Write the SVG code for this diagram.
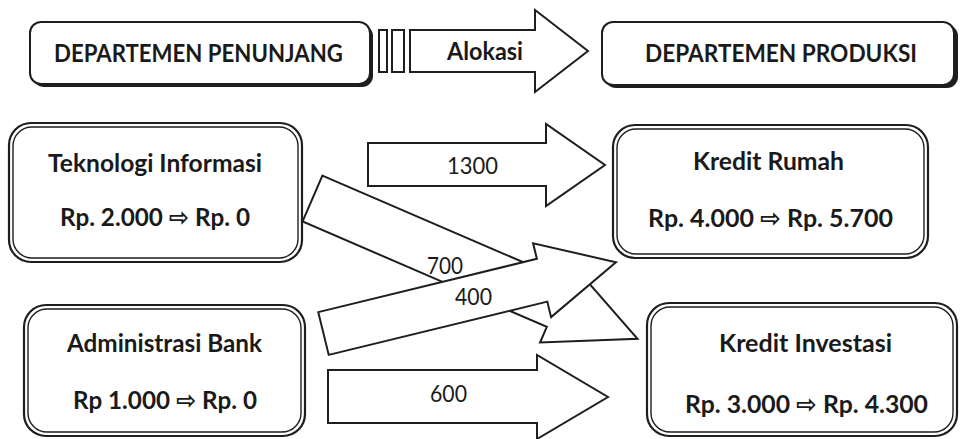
<svg xmlns="http://www.w3.org/2000/svg" width="960" height="439" viewBox="0 0 960 439">
<style>
.t{font-family:Lato,"Open Sans","DejaVu Sans",sans-serif;font-weight:bold;font-size:25.5px;fill:#1a1a1a;text-anchor:middle}
.n{font-family:Lato,"Open Sans","DejaVu Sans",sans-serif;font-weight:normal;font-size:23px;fill:#1a1a1a;text-anchor:middle}
.box{fill:#fff;stroke:#1e1e1e;stroke-width:2}
.shadow{fill:#1e1e1e}
.outer{fill:#fff;stroke:#1e1e1e;stroke-width:2.2}
.inner{fill:none;stroke:#1e1e1e;stroke-width:1.4}
.arrow{fill:#fff;stroke:#1e1e1e;stroke-width:2;stroke-linejoin:miter}
</style>
<rect width="960" height="439" fill="#fff"/>

<g id="dept-penunjang">
<rect class="shadow" x="33" y="25" width="340" height="62" rx="11"/>
<rect class="box" x="30" y="22" width="340" height="62" rx="11"/>
<text class="t" x="198.5" y="62" textLength="289" lengthAdjust="spacingAndGlyphs">DEPARTEMEN PENUNJANG</text>
</g>

<g id="dept-produksi">
<rect class="shadow" x="605" y="25" width="353" height="63" rx="11"/>
<rect class="box" x="602" y="22" width="352" height="63" rx="11"/>
<text class="t" x="781" y="62" textLength="272" lengthAdjust="spacingAndGlyphs">DEPARTEMEN PRODUKSI</text>
</g>

<g id="teknologi-informasi">
<rect class="outer" x="9" y="123" width="293" height="139" rx="22"/>
<rect class="inner" x="13" y="127" width="285" height="131" rx="19"/>
<text class="t" x="155" y="172" textLength="214" lengthAdjust="spacingAndGlyphs">Teknologi Informasi</text>
<text class="t" x="155" y="226" textLength="190" lengthAdjust="spacingAndGlyphs">Rp. 2.000 ⇨ Rp. 0</text>
</g>

<g id="kredit-rumah">
<rect class="outer" x="613" y="125" width="315" height="133" rx="22"/>
<rect class="inner" x="617" y="129" width="307" height="125" rx="19"/>
<text class="t" x="768.5" y="170" textLength="151" lengthAdjust="spacingAndGlyphs">Kredit Rumah</text>
<text class="t" x="770.5" y="227" textLength="245" lengthAdjust="spacingAndGlyphs">Rp. 4.000 ⇨ Rp. 5.700</text>
</g>

<g id="administrasi-bank">
<rect class="outer" x="24" y="305" width="281" height="131" rx="22"/>
<rect class="inner" x="28" y="309" width="273" height="123" rx="19"/>
<text class="t" x="164.5" y="352" textLength="195" lengthAdjust="spacingAndGlyphs">Administrasi Bank</text>
<text class="t" x="165" y="409" textLength="184" lengthAdjust="spacingAndGlyphs">Rp 1.000 ⇨ Rp. 0</text>
</g>

<g id="kredit-investasi">
<rect class="outer" x="647" y="303" width="310" height="133" rx="22"/>
<rect class="inner" x="651" y="307" width="302" height="125" rx="19"/>
<text class="t" x="805.5" y="352" textLength="173" lengthAdjust="spacingAndGlyphs">Kredit Investasi</text>
<text class="t" x="806.5" y="413" textLength="243" lengthAdjust="spacingAndGlyphs">Rp. 3.000 ⇨ Rp. 4.300</text>
</g>

<g id="connectors">
<g id="alokasi">
<rect class="arrow" x="379" y="30" width="8" height="42"/>
<rect class="arrow" x="392" y="30" width="12" height="42"/>
<polygon class="arrow" points="410,30 535,30 535,10 588,51 535,92 535,72 410,72"/>
<text class="t" x="485" y="60" textLength="76" lengthAdjust="spacingAndGlyphs">Alokasi</text>
</g>
<g id="arrow-1300">
<polygon class="arrow" points="368,143 546,143 546,124 605,165 546,206 546,186 368,186"/>
<text class="n" x="472.5" y="174" textLength="51" lengthAdjust="spacingAndGlyphs">1300</text>
</g>
<g id="arrow-700">
<polygon class="arrow" transform="translate(312.5,198.5) rotate(23.35)" points="0,-25 266,-25 266,-42 354,0 266,42 266,25 0,25"/>
<text class="n" x="445" y="274" textLength="36" lengthAdjust="spacingAndGlyphs">700</text>
</g>
<g id="arrow-400">
<polygon class="arrow" transform="translate(323.5,333.5) rotate(-13.7)" points="0,-22 225,-22 225,-38 301,0 225,38 225,22 0,22"/>
<text class="n" x="473.5" y="305" textLength="37" lengthAdjust="spacingAndGlyphs">400</text>
</g>
<g id="arrow-600">
<polygon class="arrow" points="328,370 537,370 537,355 608,397 537,439 537,423 328,423"/>
<text class="n" x="448.5" y="402" textLength="37" lengthAdjust="spacingAndGlyphs">600</text>
</g>
</g>
</svg>
